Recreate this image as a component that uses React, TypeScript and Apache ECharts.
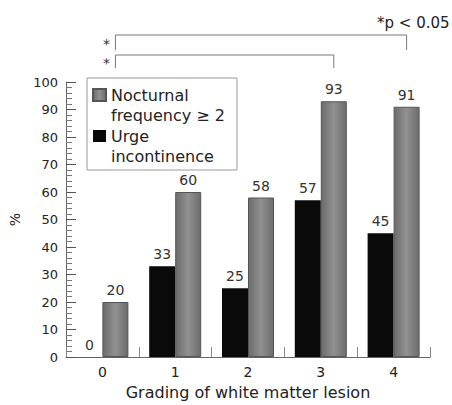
import React, { useEffect, useRef } from "react";
import * as echarts from "echarts";

const categories = ["0", "1", "2", "3", "4"];
const urgeName = "Urge incontinence";
const nocturnalName = "Nocturnal frequency ≥ 2";
const urgeIncontinence = [0, 33, 25, 57, 45];
const nocturnalFrequency = [20, 60, 58, 93, 91];
// significance brackets: compare nocturnal bars of grade "from" and "to"
const comparisons = [
  { from: 0, to: 4, label: "*" },
  { from: 0, to: 3, label: "*" },
];
const noteText = "*p < 0.05";

export default function App() {
  const ref = useRef<HTMLDivElement>(null);
  useEffect(() => {
    document.body.style.margin = "0";
    const chart = echarts.init(ref.current!, null, { renderer: "svg" });
    const font = "DejaVu Sans";
    const barW = 26;
    const iconPath = "path://M0,0H13V12H0Z M0,32";
    const grayFill = new echarts.graphic.LinearGradient(0, 0, 1, 0, [
      { offset: 0, color: "#6c6c6c" },
      { offset: 0.5, color: "#919191" },
      { offset: 1, color: "#6c6c6c" },
    ]);
    const label = {
      show: true,
      position: "top",
      distance: 5,
      fontSize: 14,
      color: "#333",
      fontFamily: font,
    };
    chart.setOption({
      animation: false,
      backgroundColor: "#fff",
      textStyle: { fontFamily: font },
      grid: { left: 66, right: 22, top: 82, bottom: 47 },
      legend: {
        orient: "vertical",
        left: 87,
        top: 78,
        padding: [7, 12, 4, 5],
        borderColor: "#999",
        borderWidth: 1,
        backgroundColor: "#fff",
        itemWidth: 13,
        itemHeight: 32,
        itemGap: 1,
        data: [
          { name: nocturnalName, icon: iconPath },
          { name: urgeName, icon: iconPath },
        ],
        formatter: (n: string) => n.replace(" ", "\n"),
        textStyle: { fontSize: 16, lineHeight: 20, color: "#222", fontFamily: font },
      },
      xAxis: {
        type: "category",
        data: categories,
        name: "Grading of white matter lesion",
        nameLocation: "middle",
        nameGap: 27,
        nameTextStyle: { fontSize: 16, color: "#222", fontFamily: font },
        axisLine: { lineStyle: { color: "#666" } },
        axisTick: { show: true, inside: true, length: 10, lineStyle: { color: "#888", width: 1 } },
        axisLabel: { fontSize: 14, color: "#222", margin: 8, fontFamily: font },
      },
      yAxis: {
        type: "value",
        min: 0,
        max: 100,
        interval: 10,
        name: "%",
        nameLocation: "middle",
        nameGap: 36,
        nameRotate: 90,
        nameTextStyle: { fontSize: 14, color: "#222", fontFamily: font },
        axisLine: { show: true, lineStyle: { color: "#666" } },
        axisTick: { show: true, inside: true, length: 10, lineStyle: { color: "#555", width: 1 } },
        minorTick: { show: true, splitNumber: 5, length: 6, lineStyle: { color: "#777", width: 1 } },
        splitLine: { show: false },
        axisLabel: { fontSize: 13, color: "#222", margin: 8, fontFamily: font },
      },
      series: [
        {
          name: urgeName,
          type: "bar",
          data: urgeIncontinence,
          barWidth: barW,
          barGap: "0%",
          itemStyle: { color: "#0a0a0a" },
          label,
        },
        {
          name: nocturnalName,
          type: "bar",
          data: nocturnalFrequency,
          barWidth: barW,
          barGap: "0%",
          itemStyle: { color: grayFill, borderColor: "#555", borderWidth: 1 },
          label,
        },
      ],
    });

    const gx = (i: number) =>
      (chart.convertToPixel({ xAxisIndex: 0 }, categories[i]) as number) + barW / 2;
    const levels = [
      { top: 35, bottom: 50, star: 44 },
      { top: 55, bottom: 68, star: 63 },
    ];
    const graphic: any[] = [];
    comparisons.forEach((c, k) => {
      const lv = levels[k];
      const a = gx(c.from);
      const b = gx(c.to);
      graphic.push({
        type: "polyline",
        shape: { points: [[a, lv.bottom], [a, lv.top], [b, lv.top], [b, lv.bottom]] },
        style: { stroke: "#777", fill: null, lineWidth: 1 },
      });
      graphic.push({
        type: "text",
        x: a - 9,
        y: lv.star,
        style: {
          text: c.label,
          fontSize: 14,
          fontFamily: font,
          fill: "#333",
          align: "center",
          verticalAlign: "middle",
        },
      });
    });
    graphic.push({
      type: "text",
      x: 377,
      y: 23,
      style: {
        text: noteText,
        fontSize: 15,
        fontFamily: font,
        fill: "#222",
        align: "left",
        verticalAlign: "middle",
      },
    });
    chart.setOption({ graphic });

    return () => chart.dispose();
  }, []);
  return <div ref={ref} style={{ width: 452, height: 405 }} />;
}
